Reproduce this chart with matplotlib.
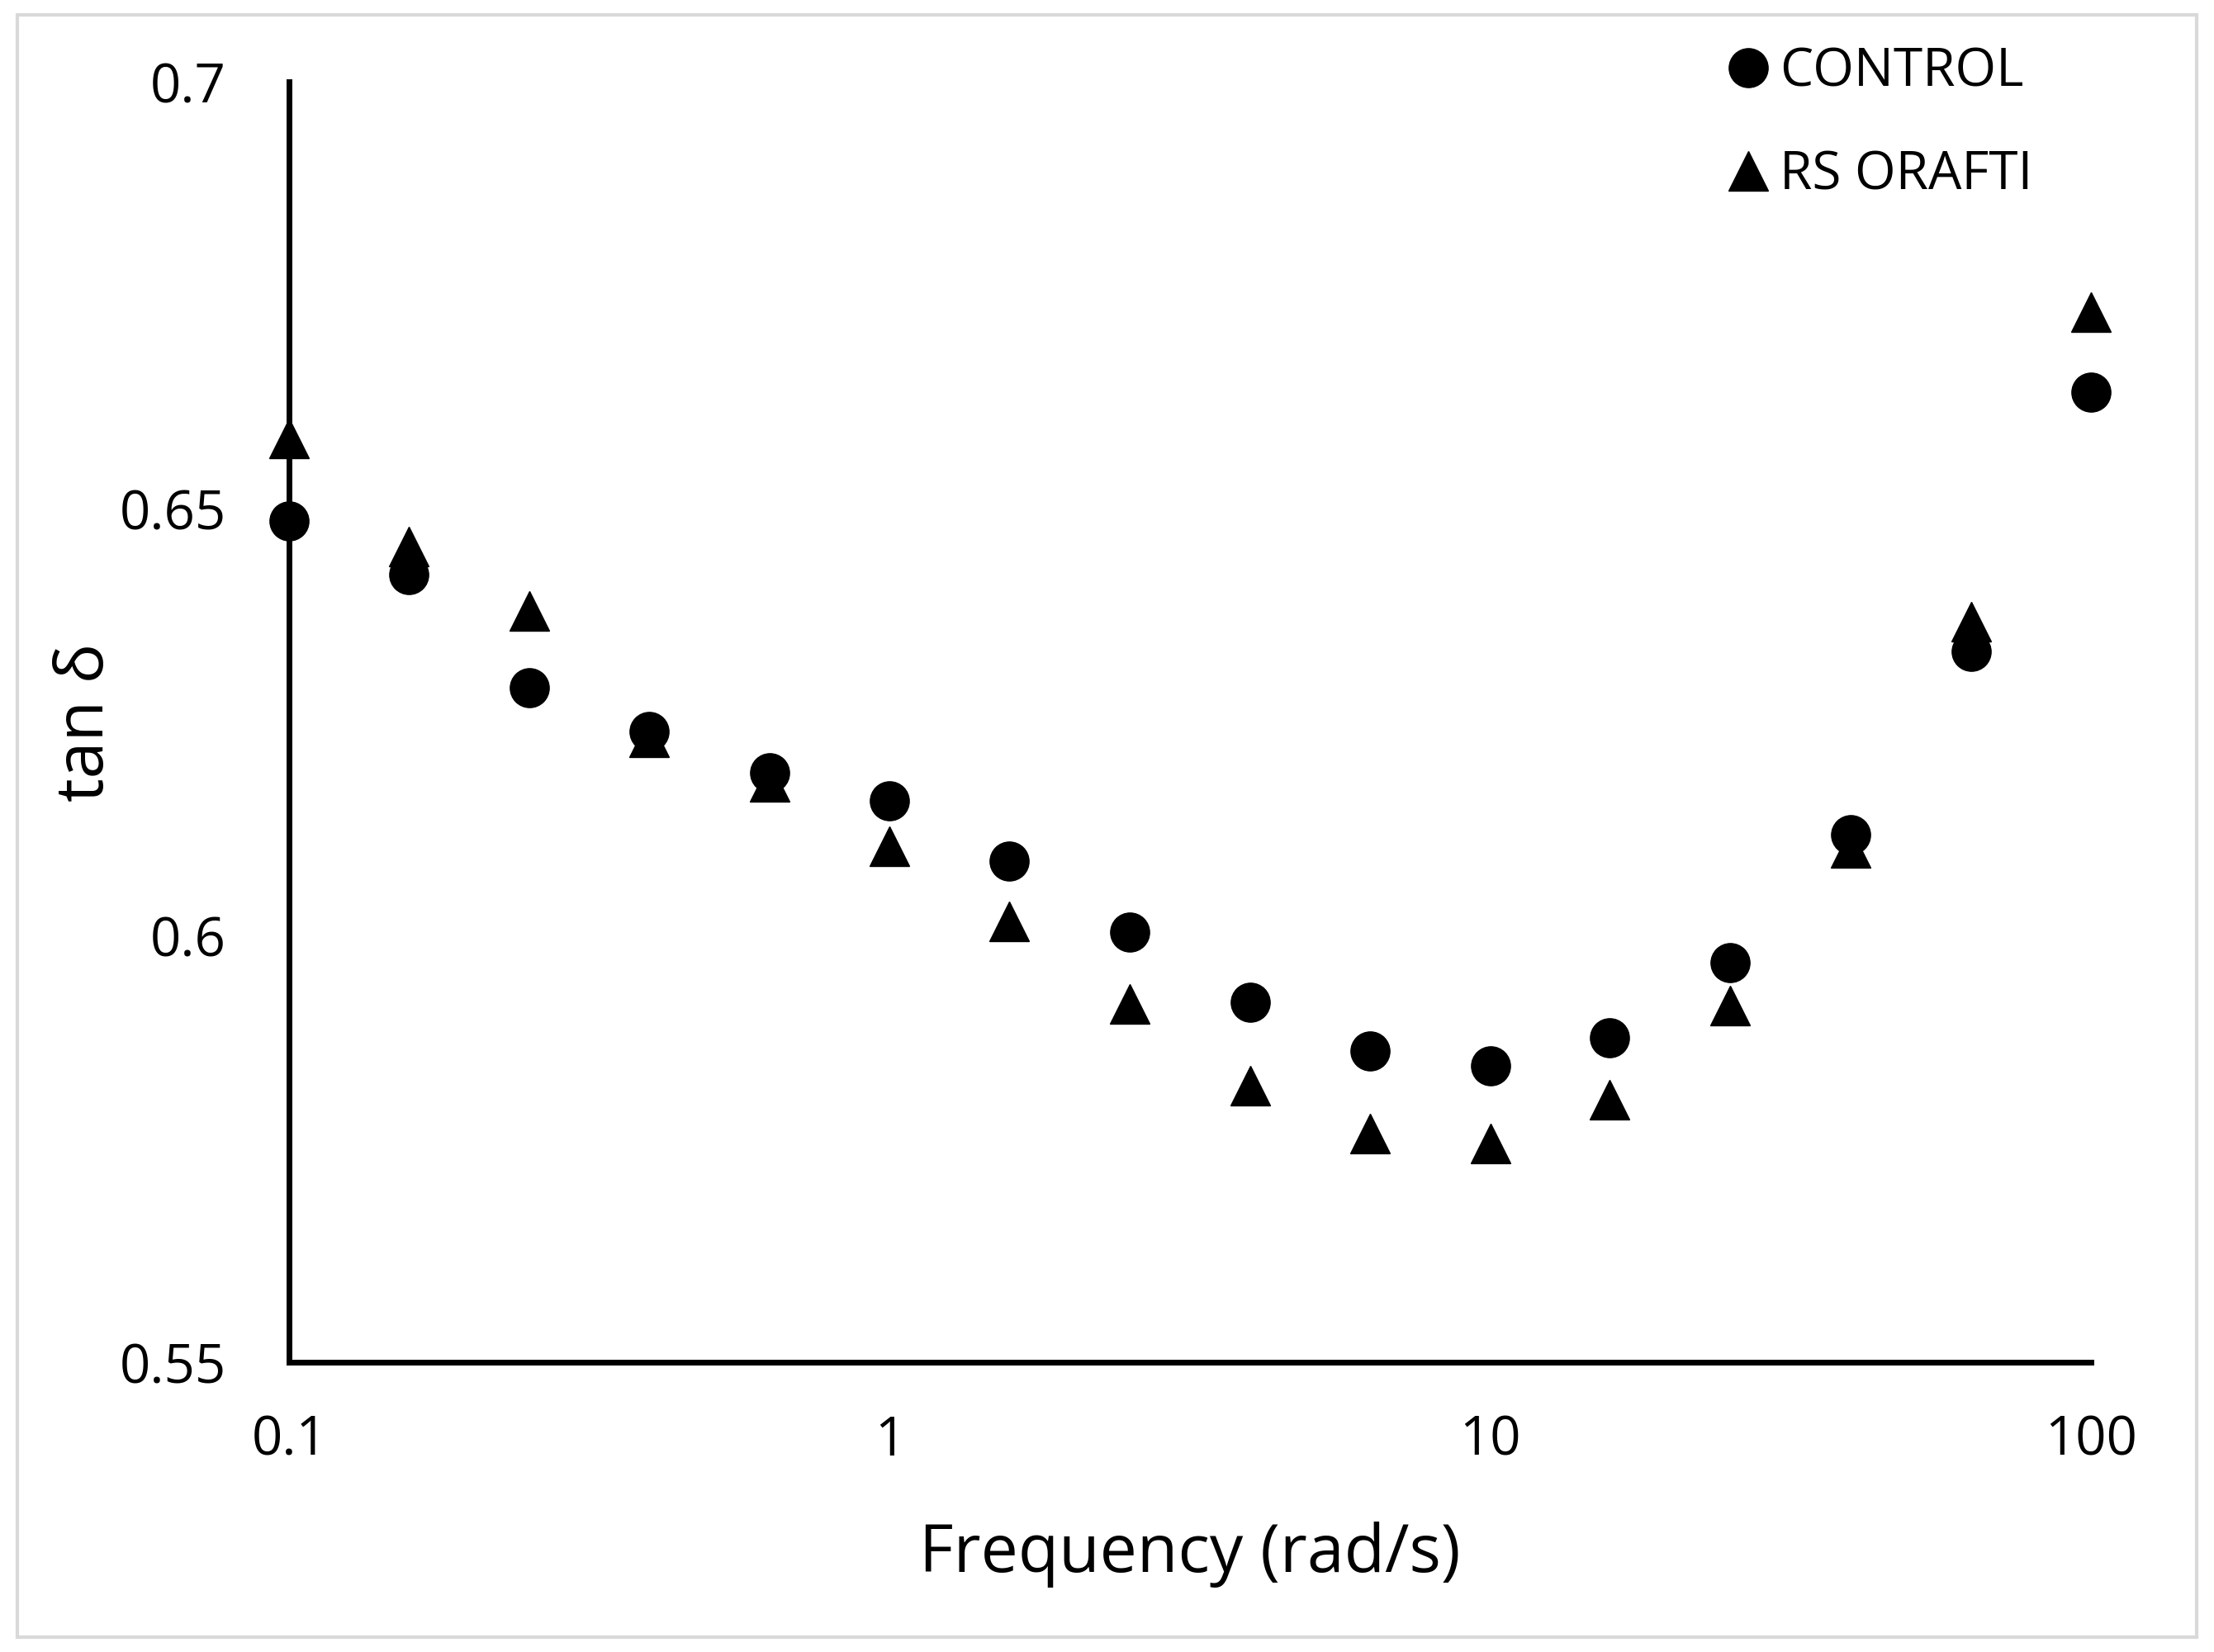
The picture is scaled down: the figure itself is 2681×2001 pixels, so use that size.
import matplotlib
matplotlib.use("Agg")
import matplotlib.pyplot as plt
from matplotlib.patches import Rectangle

frequency = [0.1, 0.158, 0.251, 0.398, 0.631, 1.0, 1.58, 2.51, 3.98,
             6.31, 10.0, 15.8, 25.1, 39.8, 63.1, 100.0]
control = [0.6486, 0.6423, 0.6290, 0.6239, 0.6191, 0.6158, 0.6087, 0.6004,
           0.5922, 0.5865, 0.5847, 0.5880, 0.5968, 0.6118, 0.6333, 0.6636]
rs_orafti = [0.6582, 0.6456, 0.6380, 0.6232, 0.6180, 0.6104, 0.6016, 0.5920,
             0.5824, 0.5768, 0.5756, 0.5808, 0.5918, 0.6103, 0.6368, 0.6730]

x_ticks = [0.1, 1, 10, 100]
x_tick_labels = ["0.1", "1", "10", "100"]
y_ticks = [0.55, 0.6, 0.65, 0.7]
y_tick_labels = ["0.55", "0.6", "0.65", "0.7"]

plt.rcParams["font.family"] = ["Open Sans", "DejaVu Sans"]

fig = plt.figure(figsize=(26.81, 20.01), dpi=100)
ax = fig.add_axes([0.1306, 0.1754, 0.8138, 0.7751])

ax.plot(frequency, control, linestyle="none", marker="o", markersize=34,
        color="black", label="CONTROL", clip_on=False, zorder=3)
ax.plot(frequency, rs_orafti, linestyle="none", marker="^", markersize=34,
        color="black", label="RS ORAFTI", clip_on=False, zorder=3)

ax.set_xscale("log")
ax.set_xlim(0.1, 100)
ax.set_ylim(0.55, 0.7)
ax.set_xticks(x_ticks)
ax.set_xticklabels(x_tick_labels)
ax.set_yticks(y_ticks)
ax.set_yticklabels(y_tick_labels)
ax.minorticks_off()
ax.tick_params(axis="both", length=0, labelsize=47)
ax.tick_params(axis="y", pad=55)
ax.tick_params(axis="x", pad=45)

for side in ["top", "right"]:
    ax.spines[side].set_visible(False)
for side in ["left", "bottom"]:
    ax.spines[side].set_linewidth(5)
    ax.spines[side].set_color("black")

ax.set_xlabel("Frequency (rad/s)", fontsize=58, labelpad=46)
ax.set_ylabel("tan δ", fontsize=58, labelpad=0)

ax.legend(loc="upper left", bbox_to_anchor=(0.761, 1.001),
          bbox_transform=fig.transFigure, frameon=False, fontsize=46,
          handlelength=0.6, handletextpad=0.3, labelspacing=0.95,
          markerscale=1.0)

fig.patches.append(Rectangle((0.008, 0.009), 0.984, 0.982,
                             transform=fig.transFigure, fill=False,
                             edgecolor="#d9d9d9", linewidth=3))

fig.savefig("out.png", dpi=100, facecolor="white")
plt.close(fig)
